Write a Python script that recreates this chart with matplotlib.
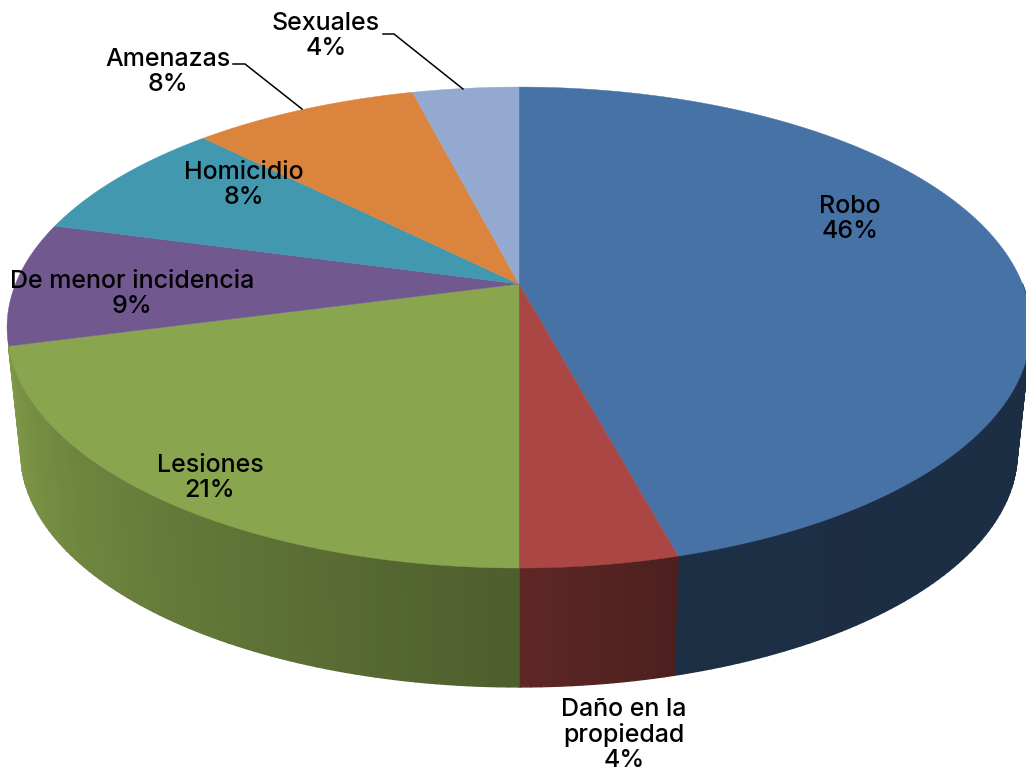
import numpy as np
import matplotlib
matplotlib.use("Agg")
import matplotlib.pyplot as plt
from matplotlib.collections import PolyCollection
from matplotlib.patches import Polygon

categories = ["Robo", "Daño en la\npropiedad", "Lesiones", "De menor incidencia",
              "Homicidio", "Amenazas", "Sexuales"]
shown_pct = [46, 4, 21, 9, 8, 8, 4]
# shares as measured from the slice edges in the picture
shares = [45.8, 4.2, 20.9, 8.3, 8.3, 8.5, 4.0]
colors = ["#4672A6", "#AA4643", "#89A54E", "#71588F", "#4198AF", "#DB843D", "#93A9CF"]

# side shading (fraction of the slice colour) at start and end of the visible slices
side_start = [0.40, 0.45, 0.57]
side_end = [0.41, 0.56, 0.92]

label_x = [850, 624, 210, 132, 244, 168, 326]
label_y = [219, 735, 478, 294, 185, 72, 36]

plt.rcParams["font.family"] = ["Inter", "DejaVu Sans"]

fig = plt.figure(figsize=(10.26, 7.71), dpi=100)
ax = fig.add_axes([0, 0, 1, 1])
ax.set_xlim(0, 1026)
ax.set_ylim(771, 0)
ax.axis("off")


# circle seen in perspective, theta in degrees clockwise from the top
def project(theta, cy, a, b, k=0.181, cx=519):
    t = np.radians(theta)
    d = 1 + k * np.cos(t)
    return np.column_stack([cx + a * np.sin(t) / d, cy - b * np.cos(t) / d])


def top_rim(theta):
    return project(theta, 284, 503.5, 232.6)


def bottom_rim(theta):
    return project(theta, 410, 490, 226.8)


edges = np.concatenate([[0], np.cumsum(shares)]) * 3.6

# side wall first, in thin strips for the gradient (back half of the rim stays hidden)
for i in range(len(side_start)):
    th = np.append(np.arange(max(edges[i], 90), edges[i + 1], 1.0), edges[i + 1])
    up = top_rim(th)
    low = bottom_rim(th)
    quads = []
    strip_colors = []
    base = np.array(matplotlib.colors.to_rgb(colors[i]))
    shade = np.linspace(side_start[i], side_end[i], len(th) - 1)
    for j in range(len(th) - 1):
        quads.append([up[j], up[j + 1], low[j + 1], low[j]])
        strip_colors.append(base * shade[j])
    ax.add_collection(PolyCollection(quads, facecolors=strip_colors,
                                     edgecolors=strip_colors, linewidths=1.0))

# top face
apex = [519, 284]
for i in range(len(shares)):
    th = np.linspace(edges[i], edges[i + 1], 200)
    pts = np.vstack([[apex], top_rim(th)])
    ax.add_patch(Polygon(pts, closed=True, facecolor=colors[i],
                         edgecolor=colors[i], linewidth=0.3))

# leader lines
ax.plot([233, 245, 302], [64, 64, 109], color="black", lw=1.1, solid_joinstyle="miter")
ax.plot([383, 394, 463], [34, 34, 89], color="black", lw=1.1, solid_joinstyle="miter")

for name, pct, x, y in zip(categories, shown_pct, label_x, label_y):
    ax.text(x, y, f"{name}\n{pct}%", ha="center", va="center", fontsize=18,
            fontweight="medium", linespacing=1.09, color="black")

fig.savefig("out.png", dpi=100)
